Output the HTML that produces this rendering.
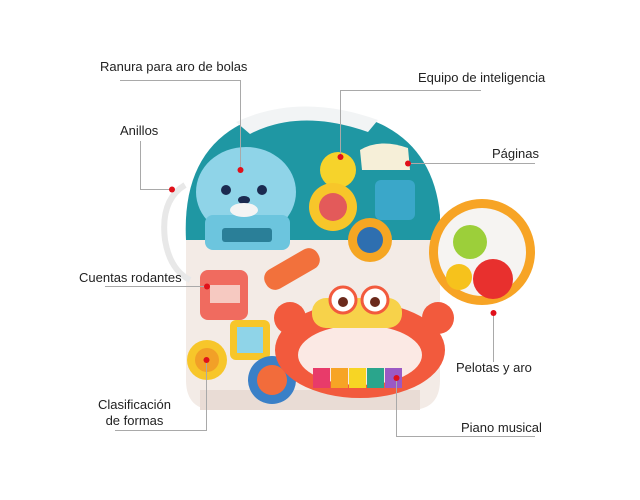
<!DOCTYPE html>
<html><head><style>
body{margin:0;background:#fff;width:640px;height:500px;overflow:hidden;position:relative;font-family:"Liberation Sans",sans-serif;}
.t{position:absolute;font-size:13px;color:#222;white-space:nowrap;}
svg{position:absolute;left:0;top:0}
</style></head><body>
<svg width="640" height="500">
<!-- cream body -->
<path d="M186 235 L440 235 L440 380 Q440 410 410 410 L215 410 Q186 410 186 380 Z" fill="#f3ebe6"/>
<rect x="200" y="390" width="220" height="20" fill="#e9dcd5"/>
<!-- left side handle -->
<path d="M185 185 Q160 200 165 240 Q170 270 190 280" fill="none" stroke="#e8e8e8" stroke-width="6"/>
<!-- teal top -->
<path d="M186 240 Q180 120 300 108 Q430 110 440 215 L440 240 Z" fill="#1f97a3"/>
<path d="M236 122 Q300 92 378 120 L368 132 Q300 108 250 134 Z" fill="#f2f4f5"/>
<!-- seal -->
<ellipse cx="246" cy="192" rx="50" ry="45" fill="#8fd4e8"/>
<rect x="205" y="215" width="85" height="35" rx="8" fill="#6cc5de"/>
<rect x="222" y="228" width="50" height="14" rx="3" fill="#2a7f98"/>
<circle cx="226" cy="190" r="5" fill="#1b2a50"/><circle cx="262" cy="190" r="5" fill="#1b2a50"/>
<ellipse cx="244" cy="200" rx="6" ry="4" fill="#1b2a50"/>
<ellipse cx="244" cy="210" rx="14" ry="7" fill="#f4f4f4"/>
<!-- cards -->
<path d="M360 150 Q380 138 408 148 L410 170 L362 170 Z" fill="#f6efd8"/>
<rect x="375" y="180" width="40" height="40" rx="6" fill="#3aa7c9"/>
<!-- gears -->
<circle cx="338" cy="170" r="18" fill="#f6d32b"/>
<circle cx="333" cy="207" r="24" fill="#f7c62a"/>
<circle cx="333" cy="207" r="14" fill="#e35a5a"/>
<circle cx="370" cy="240" r="22" fill="#f5a623"/>
<circle cx="370" cy="240" r="13" fill="#2e6fb0"/>
<!-- ring -->
<circle cx="482" cy="252" r="53" fill="#f7a425"/>
<circle cx="482" cy="252" r="44" fill="#f6f4f2"/>
<circle cx="470" cy="242" r="17" fill="#9ccf3a"/>
<circle cx="493" cy="279" r="20" fill="#e8302e"/>
<circle cx="459" cy="277" r="13" fill="#f6c21c"/>
<!-- beads box -->
<rect x="200" y="270" width="48" height="50" rx="8" fill="#f06b5f"/>
<rect x="210" y="285" width="30" height="18" fill="#f6c9c1"/>
<rect x="262" y="258" width="60" height="22" rx="10" fill="#f2713c" transform="rotate(-30 292 269)"/>
<!-- shape sorter -->
<rect x="230" y="320" width="40" height="40" rx="6" fill="#f7c62a"/>
<rect x="237" y="327" width="26" height="26" fill="#8fd4e8"/>
<circle cx="207" cy="360" r="20" fill="#f7c62a"/>
<circle cx="207" cy="360" r="12" fill="#f2a027"/>
<circle cx="272" cy="380" r="24" fill="#3a80c7"/>
<circle cx="272" cy="380" r="15" fill="#f26c3b"/>
<!-- crab -->
<ellipse cx="360" cy="350" rx="85" ry="48" fill="#f25a3d"/>
<circle cx="290" cy="318" r="16" fill="#f25a3d"/><circle cx="438" cy="318" r="16" fill="#f25a3d"/>
<ellipse cx="360" cy="355" rx="62" ry="30" fill="#fbe9e4"/>
<rect x="312" y="298" width="90" height="30" rx="14" fill="#f7d24a"/>
<circle cx="343" cy="300" r="13" fill="#fff" stroke="#f25a3d" stroke-width="3"/>
<circle cx="375" cy="300" r="13" fill="#fff" stroke="#f25a3d" stroke-width="3"/>
<circle cx="343" cy="302" r="5" fill="#6b2a1c"/><circle cx="375" cy="302" r="5" fill="#6b2a1c"/>
<rect x="313" y="368" width="17" height="20" fill="#e83b6a"/>
<rect x="331" y="368" width="17" height="20" fill="#f7a425"/>
<rect x="349" y="368" width="17" height="20" fill="#f7d524"/>
<rect x="367" y="368" width="17" height="20" fill="#2aa58c"/>
<rect x="385" y="368" width="17" height="20" fill="#9b59c4"/>
<!-- connectors -->
<g fill="none" stroke="#a9a9a9" stroke-width="1">
<path d="M120 80.5 H240.5 V170"/>
<path d="M340.5 157 V90.5 H481"/>
<path d="M140.5 141 V189.5 H172"/>
<path d="M408 163.5 H535"/>
<path d="M105 286.5 H207"/>
<path d="M115 430.5 H206.5 V360"/>
<path d="M493.5 313 V362"/>
<path d="M396.5 378 V436.5 H535"/>
</g>
<g fill="#e0101a">
<circle cx="240.5" cy="170" r="3"/><circle cx="340.5" cy="157" r="3"/>
<circle cx="172" cy="189.5" r="3"/><circle cx="408" cy="163.5" r="3"/>
<circle cx="207" cy="286.5" r="3"/><circle cx="206.5" cy="360" r="3"/>
<circle cx="493.5" cy="313" r="3"/><circle cx="396.5" cy="378" r="3"/>
</g>
</svg>
<div class="t" style="left:100px;top:59px">Ranura para aro de bolas</div>
<div class="t" style="left:418px;top:70px">Equipo de inteligencia</div>
<div class="t" style="left:120px;top:123px">Anillos</div>
<div class="t" style="left:492px;top:146px">Páginas</div>
<div class="t" style="left:79px;top:270px">Cuentas rodantes</div>
<div class="t" style="left:98px;top:397px;line-height:16px;text-align:center">Clasificación<br>de formas</div>
<div class="t" style="left:456px;top:360px">Pelotas y aro</div>
<div class="t" style="left:461px;top:420px">Piano musical</div>
</body></html>
